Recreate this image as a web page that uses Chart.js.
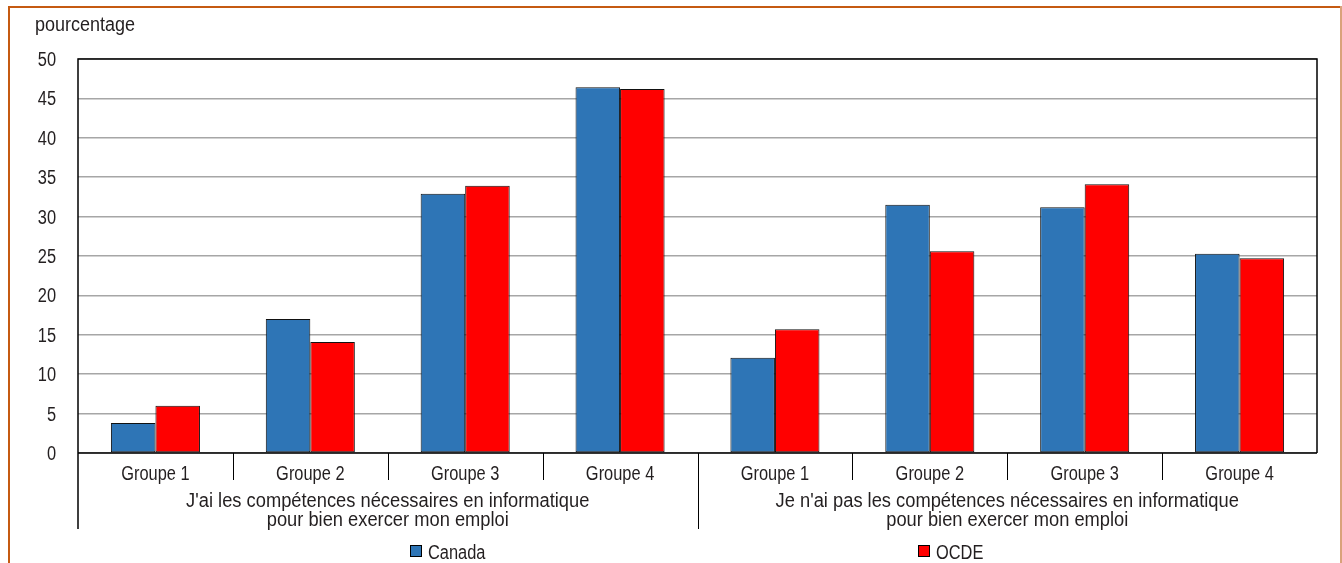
<!DOCTYPE html>
<html>
<head>
<meta charset="utf-8">
<script src="https://cdn.jsdelivr.net/npm/chart.js@4.4.1/dist/chart.umd.min.js"></script>
<style>
  html, body { margin: 0; padding: 0; background: #fff; }
  #wrap { position: relative; width: 1342px; height: 563px; }
</style>
</head>
<body>
<div id="wrap"><canvas id="chart"></canvas></div>
<script>
// Arial-metric face squeezed horizontally to get a narrow look
const FONT = "'Liberation Sans', Arial, sans-serif";
const FONT_SIZE = 20;
const SQUEEZE = 0.82;

// Data
const categories = ['Groupe 1', 'Groupe 2', 'Groupe 3', 'Groupe 4', 'Groupe 1', 'Groupe 2', 'Groupe 3', 'Groupe 4'];
const groupLabels = [
    ["J'ai les compétences nécessaires en informatique", 'pour bien exercer mon emploi'],
    ["Je n'ai pas les compétences nécessaires en informatique", 'pour bien exercer mon emploi']
];
const canada = [3.8, 17.0, 32.9, 46.4, 12.1, 31.5, 31.2, 25.3];
const ocde = [6.0, 14.1, 33.9, 46.2, 15.7, 25.6, 34.1, 24.7];
const yMin = 0, yMax = 50, yStep = 5;
const yTitle = 'pourcentage';

const BLUE = '#2E75B6';
const RED = '#FF0000';
const TEXT = '#231f20';

function narrowText(ctx, str, x, y, align, squeeze) {
    ctx.save();
    ctx.translate(x, y);
    ctx.scale(squeeze || SQUEEZE, 1);
    ctx.textAlign = align;
    ctx.fillText(str, 0, 0);
    ctx.restore();
}

// Frame, axis lines, labels and legend
const decorPlugin = {
    id: 'decor',
    beforeDraw(chart) {
        const ctx = chart.ctx;
        ctx.save();
        ctx.fillStyle = '#fff';
        ctx.fillRect(0, 0, chart.width, chart.height);
        ctx.restore();
    },
    afterDraw(chart) {
        const ctx = chart.ctx;
        const a = chart.chartArea;
        const x = chart.scales.x;
        const y = chart.scales.y;
        ctx.save();

        // orange frame
        ctx.fillStyle = '#C55A11';
        ctx.fillRect(8, 6, chart.width - 8, 2);
        ctx.fillRect(8, 6, 2, chart.height - 6);
        ctx.fillStyle = '#D9A27A';
        ctx.fillRect(chart.width - 2, 6, 2, chart.height - 6);

        // plot border
        ctx.strokeStyle = '#000';
        ctx.lineWidth = 1.5;
        ctx.beginPath();
        ctx.moveTo(a.left, 529);
        ctx.lineTo(a.left, a.top);
        ctx.lineTo(a.right, a.top);
        ctx.lineTo(a.right, a.bottom);
        ctx.stroke();

        // zero line
        ctx.beginPath();
        ctx.moveTo(a.left, a.bottom);
        ctx.lineTo(a.right, a.bottom);
        ctx.stroke();

        // separators between categories
        const half = (x.getPixelForValue(1) - x.getPixelForValue(0)) / 2;
        ctx.lineWidth = 1;
        for (let i = 1; i < categories.length; i++) {
            const px = Math.round(x.getPixelForValue(i) - half) + 0.5;
            const len = (i === categories.length / 2) ? 529 : 480;
            ctx.beginPath();
            ctx.moveTo(px, a.bottom);
            ctx.lineTo(px, len);
            ctx.stroke();
        }

        ctx.fillStyle = TEXT;
        ctx.font = FONT_SIZE + 'px ' + FONT;
        ctx.textBaseline = 'alphabetic';

        // y tick labels
        for (let v = yMin; v <= yMax; v += yStep) {
            narrowText(ctx, String(v), 56, y.getPixelForValue(v) + 7, 'right');
        }

        // category labels
        categories.forEach((c, i) => {
            narrowText(ctx, c, x.getPixelForValue(i), 480, 'center');
        });

        // group labels
        const per = categories.length / groupLabels.length;
        groupLabels.forEach((lines, g) => {
            const cx = (x.getPixelForValue(g * per) + x.getPixelForValue(g * per + per - 1)) / 2;
            narrowText(ctx, lines[0], cx, 507, 'center', 0.915);
            narrowText(ctx, lines[1], cx, 526, 'center', 0.915);
        });

        // y title
        narrowText(ctx, yTitle, 35, 31, 'left', 0.9);

        // legend
        const pos = [410, 918];
        chart.data.datasets.forEach((d, i) => {
            ctx.fillStyle = d.backgroundColor;
            ctx.fillRect(pos[i], 545, 12, 12);
            ctx.strokeStyle = '#000';
            ctx.lineWidth = 1;
            ctx.strokeRect(pos[i] + 0.5, 545.5, 11, 11);
            ctx.fillStyle = TEXT;
            narrowText(ctx, d.label, pos[i] + 18, 559, 'left');
        });

        ctx.restore();
    }
};

new Chart(document.getElementById('chart'), {
    type: 'bar',
    data: {
        labels: categories,
        datasets: [
            {
                label: 'Canada',
                data: canada,
                backgroundColor: BLUE,
                borderColor: '#111',
                borderWidth: 1,
                borderSkipped: false,
                categoryPercentage: 0.575,
                barPercentage: 1
            },
            {
                label: 'OCDE',
                data: ocde,
                backgroundColor: RED,
                borderColor: '#111',
                borderWidth: 1,
                borderSkipped: false,
                categoryPercentage: 0.575,
                barPercentage: 1
            }
        ]
    },
    options: {
        responsive: true,
        maintainAspectRatio: false,
        animation: false,
        devicePixelRatio: 1,
        layout: { padding: { left: 0, top: 59, right: 25, bottom: 0 } },
        plugins: {
            legend: { display: false },
            tooltip: { enabled: false }
        },
        scales: {
            x: {
                grid: { display: false },
                border: { display: false },
                ticks: { display: false },
                afterFit(s) { s.height = 110; }
            },
            y: {
                min: yMin,
                max: yMax,
                ticks: { stepSize: yStep, display: false },
                grid: { color: '#a6a6a6', lineWidth: 1.5, drawTicks: false },
                border: { display: false },
                afterFit(s) { s.width = 78; }
            }
        }
    },
    plugins: [decorPlugin]
});
</script>
</body>
</html>
